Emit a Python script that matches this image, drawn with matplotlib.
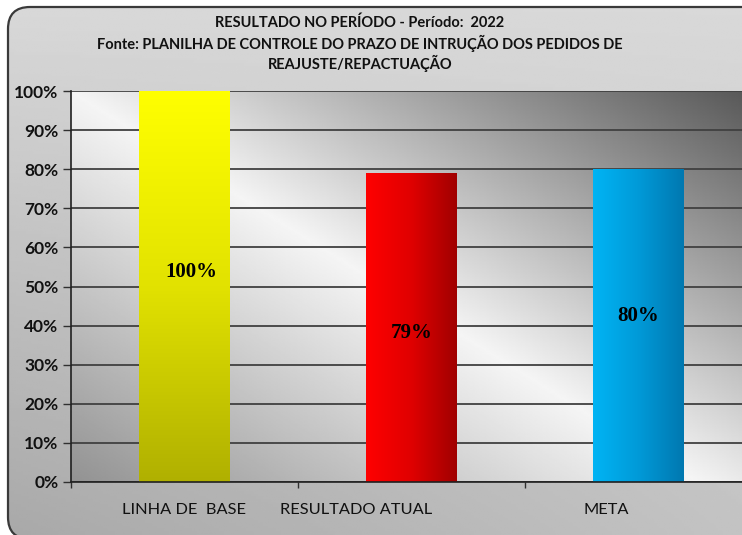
import numpy as np
import matplotlib
matplotlib.use("Agg")
import matplotlib.pyplot as plt
from matplotlib.patches import FancyBboxPatch
from matplotlib.colors import LinearSegmentedColormap
from matplotlib.ticker import FixedLocator, PercentFormatter

# ---- data ----
categories = ["LINHA DE  BASE", "RESULTADO ATUAL", "META"]
values = [100, 79, 80]
value_labels = ["100%", "79%", "80%"]
yticks = [0, 10, 20, 30, 40, 50, 60, 70, 80, 90, 100]
title_lines = ["RESULTADO NO PERÍODO - Período:  2022",
               "Fonte: PLANILHA DE CONTROLE DO PRAZO DE INTRUÇÃO DOS PEDIDOS DE",
               "REAJUSTE/REPACTUAÇÃO"]

# ---- style ----
W, H = 742, 535
DPI = 100
sans = ["Lato", "DejaVu Sans"]
serif = ["Liberation Serif", "DejaVu Serif"]
bar_width = 0.4
label_x = [0.0, 0.755, 1.857]          # x-label positions (data units)
val_dx = [0.03, 0.0, 0.0]
val_dy = [3.7, -1.4, 2.5]
bar_grads = [
    ("v", ["#b0b000", "#e2e200", "#ffff00"]),   # yellow: bottom -> top
    ("h", ["#ff0000", "#e00000", "#a00000"]),   # red: left -> right
    ("h", ["#00b4f4", "#009ad8", "#0078b0"]),   # blue: left -> right
]

fig = plt.figure(figsize=(W / DPI, H / DPI), dpi=DPI)
fig.patch.set_facecolor("white")

# ---- figure background with rounded frame ----
bg = fig.add_axes([0, 0, 1, 1], zorder=-10)
bg.set_xlim(0, W)
bg.set_ylim(0, H)
bg.axis("off")
yy, xx = np.mgrid[0:1:200j, 0:1:300j]
bgimg = 0.85 - (1 - yy) * 0.19 * (1 - 0.55 * xx)
frame_bottom = -4
frame_top = H - 7
frame = FancyBboxPatch((8, frame_bottom), W + 40, frame_top - frame_bottom,
                       boxstyle="round,pad=0,rounding_size=22",
                       facecolor="none", edgecolor="#3a3a3a", lw=1.6,
                       transform=bg.transData, clip_on=False)
bg.add_patch(frame)
im = bg.imshow(bgimg, cmap="gray", vmin=0, vmax=1, origin="lower",
               extent=[0, W, 0, H], aspect="auto", zorder=0)
im.set_clip_path(frame)

# ---- main axes ----
ax = fig.add_axes([71 / W, (H - 482) / H, (752 - 71) / W, 391 / H])
ax.set_facecolor("none")
ax.set_xlim(-0.5, 2.5)
ax.set_ylim(0, 100)

# plot-area gradient (anti-diagonal, light middle band)
v, u = np.mgrid[0:1:300j, 0:1:400j]
d = u + 0.92 * v - 0.92
pa = np.where(d >= 0, 0.96 - d * 0.62, 0.96 + d * 0.42)
ax.imshow(pa, cmap="gray", vmin=0, vmax=1, origin="lower",
          extent=[0, 1, 0, 1], transform=ax.transAxes, aspect="auto",
          zorder=0)

# gridlines
ax.set_yticks(yticks)
ax.yaxis.set_major_formatter(PercentFormatter(decimals=0))
ax.grid(axis="y", color="#404040", lw=1.3, zorder=1)
ax.set_axisbelow(False)

# bars
x = np.arange(len(categories))
bars = ax.bar(x, values, width=bar_width, color="none", zorder=2)
for b, (orient, cols) in zip(bars, bar_grads):
    cmap = LinearSegmentedColormap.from_list("g", cols)
    if orient == "v":
        g = np.linspace(0, 1, 256).reshape(-1, 1)
    else:
        g = np.linspace(0, 1, 256).reshape(1, -1)
    bx, by = b.get_x(), b.get_y()
    bw, bh = b.get_width(), b.get_height()
    gi = ax.imshow(g, cmap=cmap, origin="lower", aspect="auto",
                   extent=[bx, bx + bw, by, by + bh], zorder=3)
    gi.set_clip_path(b)
ax.set_xlim(-0.5, 2.5)
ax.set_ylim(0, 100)

# value labels
for i, (val, lab) in enumerate(zip(values, value_labels)):
    ax.text(i + val_dx[i], val / 2 + val_dy[i], lab, ha="center", va="center",
            fontsize=15, fontweight="bold", family=serif, color="black",
            zorder=5)

# spines and ticks
for s in ["top", "right"]:
    ax.spines[s].set_visible(False)
for s in ["left", "bottom"]:
    ax.spines[s].set_color("#202020")
    ax.spines[s].set_linewidth(1.2)
    ax.spines[s].set_zorder(4)

ax.tick_params(axis="y", direction="out", length=6, width=1, color="#303030",
               labelsize=12.5, pad=3)
for t in ax.get_yticklabels():
    t.set_fontweight("bold")
    t.set_family(sans)
    t.set_color("#111111")

ax.set_xticks(label_x)
ax.set_xticklabels(categories)
ax.tick_params(axis="x", which="major", length=0, pad=15, labelsize=11.8)
for t in ax.get_xticklabels():
    t.set_family(sans)
    t.set_color("#111111")
ax.xaxis.set_minor_locator(FixedLocator([-0.5, 0.5, 1.5, 2.5]))
ax.tick_params(axis="x", which="minor", direction="out", length=4, width=1,
               color="#303030")

# title
tys = [23, 43, 63]
for line, ty in zip(title_lines, tys):
    fig.text(360 / W, 1 - ty / H, line, ha="center", va="center",
             fontsize=10.5, fontweight="bold", family=sans, color="#111111")

fig.savefig("out.png", dpi=DPI)
